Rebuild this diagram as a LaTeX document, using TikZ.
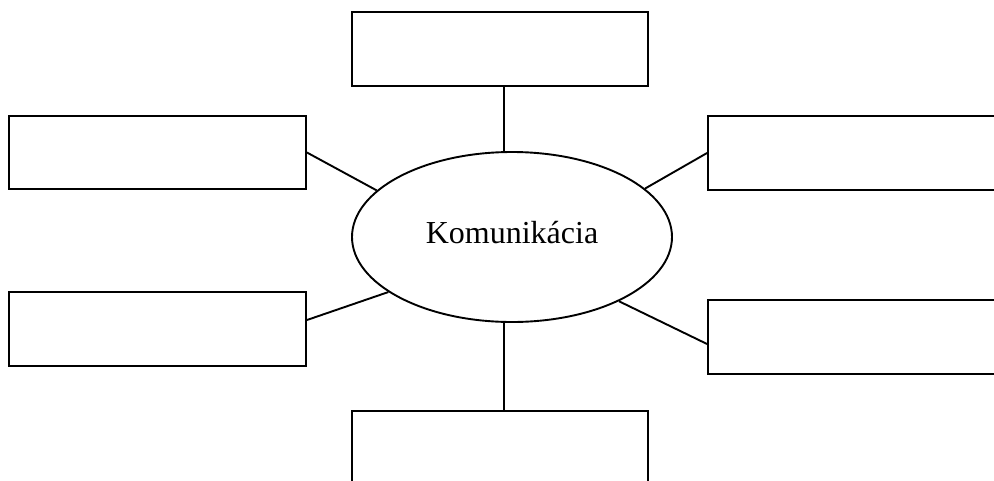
\documentclass[tikz,border=0pt]{standalone}
\usepackage{fontspec}
\setmainfont{Liberation Serif}
\usetikzlibrary{shapes.geometric,calc}
\begin{document}
\begin{tikzpicture}[x=1pt,y=-1pt,
  box/.style={draw,line width=1.9pt,rectangle,inner sep=0pt},
  link/.style={line width=1.9pt},
  hub/.style={draw,line width=1.9pt,ellipse,inner sep=0pt,minimum width=320pt,minimum height=170pt}]
\useasboundingbox (0,0) rectangle (994,480);
\clip (0,0) rectangle (994,480);
\node[hub] (ell) at (512,237) {};
\node[anchor=base,font=\fontsize{32}{38}\selectfont] (lab) at (512,243) {Komunikácia};
\node[box,minimum width=296pt,minimum height=74pt] (top) at (500,49) {};
\node[box,minimum width=297pt,minimum height=73pt] (lt) at (157.5,152.5) {};
\node[box,minimum width=297pt,minimum height=74pt] (lb) at (157.5,329) {};
\node[box,minimum width=302pt,minimum height=74pt] (rt) at (859,153) {};
\node[box,minimum width=302pt,minimum height=74pt] (rb) at (859,337) {};
\node[box,minimum width=296pt,minimum height=80pt] (bot) at (500,451) {};
\coordinate (ta) at ($(top.south)+(4,0)$);
\coordinate (ba) at ($(bot.north)+(4,0)$);
\coordinate (lba) at ($(lb.east)+(0,-9)$);
\coordinate (rba) at ($(rb.west)+(0,7)$);
\draw[link] (ta) -- (ta |- ell.north);
\draw[link] (ba) -- (ba |- ell.south);
\draw[link] (lt.east) -- (ell.161);
\draw[link] (rt.west) -- (ell.20);
\draw[link] (lba) -- (ell.204);
\draw[link] (rba) -- (ell.329);
\end{tikzpicture}
\end{document}
